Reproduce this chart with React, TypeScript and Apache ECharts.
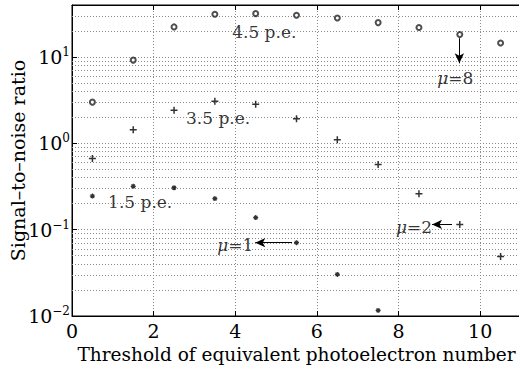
import React, { useEffect, useRef } from "react";
import * as echarts from "echarts";

const thresholds = [0.5, 1.5, 2.5, 3.5, 4.5, 5.5, 6.5, 7.5, 8.5, 9.5, 10.5];
const snrMu8 = [3.0, 9.2, 22.3, 31.2, 31.8, 30.4, 28.3, 25.0, 21.9, 18.2, 14.5];
const snrMu2 = [0.665, 1.44, 2.41, 3.07, 2.83, 1.93, 1.1, 0.567, 0.261, 0.115, 0.049];
const snrMu1 = [0.245, 0.318, 0.306, 0.229, 0.138, 0.0707, 0.0303, 0.0116];

const xTicks = [0, 2, 4, 6, 8, 10];
const yMinorGrid = [
  0.02, 0.03, 0.04, 0.05, 0.06, 0.07, 0.08, 0.09,
  0.2, 0.3, 0.4, 0.5, 0.6, 0.7, 0.8, 0.9,
  2, 3, 4, 5, 6, 7, 8, 9,
  20, 30,
];

// text annotations (data coordinates)
const noteTexts = ["4.5 p.e.", "3.5 p.e.", "1.5 p.e.", "{i|μ}=1", "{i|μ}=2", "{i|μ}=8"];
const noteX = [4.71, 3.58, 1.67, 4.0, 8.38, 9.39];
const noteY = [19.3, 1.95, 0.207, 0.066, 0.106, 5.66];

// arrows: from (x, y) to (x, y), head at the "to" end
const arrowFromX = [5.39, 9.31, 9.49];
const arrowFromY = [0.0707, 0.115, 16.5];
const arrowToX = [4.49, 8.82, 9.49];
const arrowToY = [0.0707, 0.115, 8.45];

const FONT = "DejaVu Serif";
const INK = "#000";

function isPow10(v: number) {
  const e = Math.log10(v);
  return Math.abs(e - Math.round(e)) < 1e-6;
}

export default function App() {
  const ref = useRef<HTMLDivElement>(null);
  useEffect(() => {
    if (!ref.current) return;
    const chart = echarts.init(ref.current, undefined, { renderer: "svg" });
    const gridLine = { color: "#8a8a8a", width: 1, type: [1, 2] as any };
    chart.setOption({
      animation: false,
      backgroundColor: "#fff",
      textStyle: { fontFamily: FONT },
      grid: {
        left: 72,
        top: 5,
        right: -2,
        bottom: 56,
        outerBoundsMode: "none",
        containLabel: false,
        show: true,
        borderColor: "#000",
        borderWidth: 1,
        backgroundColor: "transparent",
      },
      xAxis: [
        {
          type: "value",
          min: 0,
          max: 11,
          interval: 2,
          name: "Threshold of equivalent photoelectron number",
          nameLocation: "middle",
          nameGap: 29,
          nameMoveOverlap: false,
          nameTextStyle: { fontFamily: FONT, fontSize: 18.5, color: INK },
          axisLine: { show: true, lineStyle: { color: "#000" } },
          axisTick: { show: true, inside: true, length: 5, lineStyle: { color: "#000" } },
          axisLabel: {
            fontFamily: FONT,
            fontSize: 19,
            color: INK,
            margin: 5,
            showMaxLabel: false,
            formatter: (v: number) => (xTicks.includes(v) ? String(v) : ""),
          },
          splitLine: { show: true, lineStyle: gridLine },
        },
        {
          type: "value",
          position: "top",
          min: 0,
          max: 11,
          interval: 2,
          axisLine: { show: true, lineStyle: { color: "#000" } },
          axisTick: { show: true, inside: true, length: 5, lineStyle: { color: "#000" } },
          axisLabel: { show: false },
          splitLine: { show: false },
        },
      ],
      yAxis: {
        type: "log",
        logBase: 10,
        min: 0.01,
        max: 40,
        name: "Signal–to–noise ratio",
        nameLocation: "middle",
        nameGap: 45,
        nameMoveOverlap: false,
        nameTextStyle: { fontFamily: FONT, fontSize: 19, color: INK },
        axisLine: { show: true, lineStyle: { color: "#000" } },
        axisTick: { show: true, inside: true, length: 5, lineStyle: { color: "#000" } },
        axisLabel: {
          margin: 2,
          color: INK,
          formatter: (v: number) => {
            if (!isPow10(v)) return "";
            const e = Math.round(Math.log10(v));
            const s = e < 0 ? "−" + Math.abs(e) : String(e);
            return "{b|10}{s|" + s + "}";
          },
          rich: {
            b: { fontFamily: FONT, fontSize: 19, color: INK, lineHeight: 22 },
            s: { fontFamily: FONT, fontSize: 12, color: INK, verticalAlign: "top", lineHeight: 13 },
          },
        },
        splitLine: { show: true, lineStyle: gridLine },
      },
      series: [
        {
          name: "mu8",
          type: "scatter",
          symbol: "emptyCircle",
          symbolSize: 5,
          itemStyle: { color: "#222", borderWidth: 1.2 },
          data: thresholds.map((x, i) => [x, snrMu8[i]]),
          z: 5,
          markLine: {
            silent: true,
            symbol: "none",
            label: { show: false },
            lineStyle: gridLine,
            data: yMinorGrid.map((v) => ({ yAxis: v })),
            z: 1,
          },
        },
        {
          name: "mu2",
          type: "scatter",
          symbol: "path://M5,0L5,10M0,5L10,5",
          symbolSize: 7,
          itemStyle: { color: "none", borderColor: "#000", borderWidth: 1.5 },
          data: thresholds.map((x, i) => [x, snrMu2[i]]),
          z: 5,
        },
        {
          name: "mu1",
          type: "scatter",
          symbol: "path://M5,0L5,10M0,5L10,5M1.5,1.5L8.5,8.5M8.5,1.5L1.5,8.5",
          symbolSize: 5,
          itemStyle: { color: "none", borderColor: "#000", borderWidth: 1.2 },
          data: snrMu1.map((y, i) => [thresholds[i], y]),
          z: 5,
        },
        {
          name: "notes",
          type: "scatter",
          symbolSize: 0,
          silent: true,
          z: 6,
          data: noteTexts.map((t, i) => ({ value: [noteX[i], noteY[i]], name: t })),
          label: {
            show: true,
            position: "inside",
            formatter: (p: any) => p.name,
            fontFamily: FONT,
            fontSize: 17,
            color: INK,
            rich: {
              i: { fontFamily: FONT, fontStyle: "italic", fontSize: 17, color: INK },
            },
          },
          markLine: {
            silent: true,
            symbol: ["none", "arrow"],
            symbolSize: [7, 10],
            label: { show: false },
            lineStyle: { color: "#000", width: 1, type: "solid" },
            data: arrowFromX.map((fx, i) => [
              { coord: [fx, arrowFromY[i]] },
              { coord: [arrowToX[i], arrowToY[i]] },
            ]),
          },
        },
      ],
    });
    return () => chart.dispose();
  }, []);
  return (
    <div
      ref={ref}
      style={{ position: "absolute", left: 0, top: 0, width: 519, height: 372 }}
    />
  );
}
